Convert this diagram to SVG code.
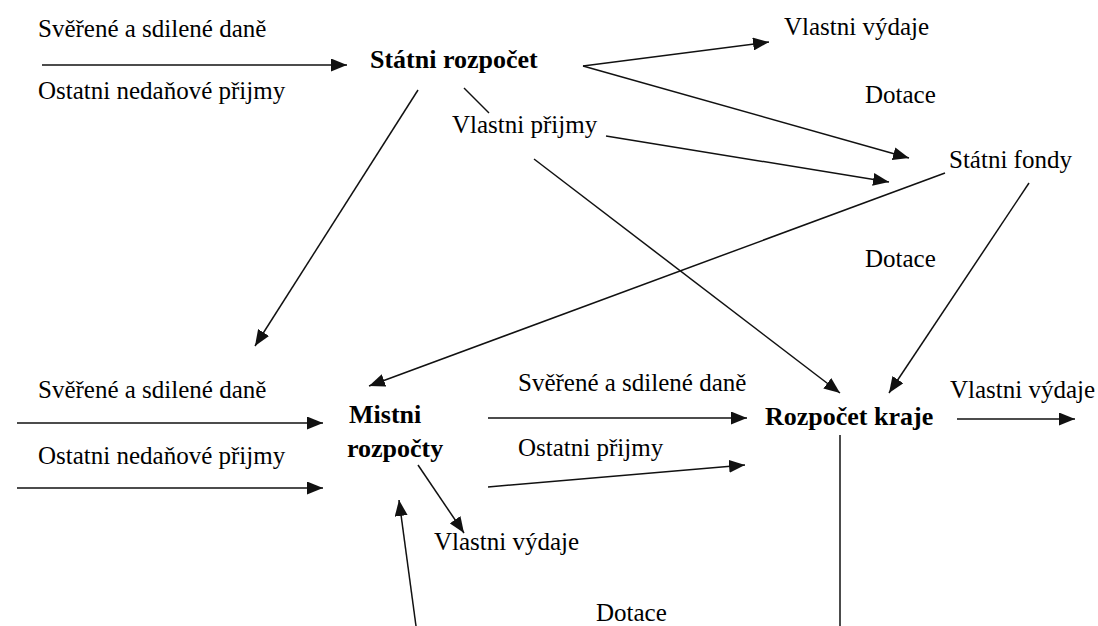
<svg xmlns="http://www.w3.org/2000/svg" width="1098" height="626" viewBox="0 0 1098 626">
<defs>
<marker id="ah" markerUnits="userSpaceOnUse" markerWidth="17" markerHeight="13" refX="16" refY="6.5" orient="auto">
<path d="M0,0 L16,6.5 L0,13 z" fill="#111"/>
</marker>
</defs>
<rect width="1098" height="626" fill="#fff"/>
<g id="connectors" stroke="#111" stroke-width="1.5" fill="none">
<line marker-end="url(#ah)" x1="42" y1="65" x2="347" y2="65"/>
<line marker-end="url(#ah)" x1="418" y1="90" x2="255" y2="346"/>
<line x1="464" y1="88" x2="489" y2="113"/>
<line marker-end="url(#ah)" x1="583" y1="66" x2="769" y2="42"/>
<line marker-end="url(#ah)" x1="583" y1="66" x2="909" y2="158"/>
<line marker-end="url(#ah)" x1="606" y1="136" x2="889" y2="182"/>
<line marker-end="url(#ah)" x1="534" y1="159" x2="840" y2="393"/>
<line marker-end="url(#ah)" x1="945" y1="173" x2="369" y2="386"/>
<line marker-end="url(#ah)" x1="1029" y1="183" x2="889" y2="393"/>
<line marker-end="url(#ah)" x1="17" y1="423" x2="323" y2="423"/>
<line marker-end="url(#ah)" x1="17" y1="488" x2="323" y2="488"/>
<line marker-end="url(#ah)" x1="488" y1="418" x2="747" y2="418"/>
<line marker-end="url(#ah)" x1="488" y1="487" x2="745" y2="465"/>
<line marker-end="url(#ah)" x1="418" y1="465" x2="464" y2="533"/>
<line marker-end="url(#ah)" x1="416" y1="626" x2="399" y2="500"/>
<line marker-end="url(#ah)" x1="957" y1="419" x2="1075" y2="419"/>
<line x1="840" y1="435" x2="840" y2="626"/>
</g>
<g id="labels">
<text x="38" y="37" font-size="25" font-family="Liberation Serif, Times New Roman, serif">Svěřené a sdilené daně</text>
<text x="38" y="99" font-size="25" font-family="Liberation Serif, Times New Roman, serif">Ostatni nedaňové přijmy</text>
<text x="452" y="133" font-size="25" font-family="Liberation Serif, Times New Roman, serif">Vlastni přijmy</text>
<text x="784" y="35" font-size="25" font-family="Liberation Serif, Times New Roman, serif">Vlastni výdaje</text>
<text x="865" y="103" font-size="25" font-family="Liberation Serif, Times New Roman, serif">Dotace</text>
<text x="865" y="267" font-size="25" font-family="Liberation Serif, Times New Roman, serif">Dotace</text>
<text x="38" y="398" font-size="25" font-family="Liberation Serif, Times New Roman, serif">Svěřené a sdilené daně</text>
<text x="38" y="464" font-size="25" font-family="Liberation Serif, Times New Roman, serif">Ostatni nedaňové přijmy</text>
<text x="518" y="391" font-size="25" font-family="Liberation Serif, Times New Roman, serif">Svěřené a sdilené daně</text>
<text x="518" y="456" font-size="25" font-family="Liberation Serif, Times New Roman, serif">Ostatni přijmy</text>
<text x="950" y="398" font-size="25" font-family="Liberation Serif, Times New Roman, serif">Vlastni výdaje</text>
<text x="434" y="550" font-size="25" font-family="Liberation Serif, Times New Roman, serif">Vlastni výdaje</text>
<text x="596" y="621" font-size="25" font-family="Liberation Serif, Times New Roman, serif">Dotace</text>
</g>
<g id="statni-rozpocet"><text x="370" y="68" font-size="26" font-family="Liberation Serif, Times New Roman, serif" font-weight="bold">Státni rozpočet</text></g>
<g id="statni-fondy"><text x="949" y="168" font-size="25" font-family="Liberation Serif, Times New Roman, serif">Státni fondy</text></g>
<g id="mistni-rozpocty"><text x="349" y="423" font-size="26" font-family="Liberation Serif, Times New Roman, serif" font-weight="bold">Mistni</text><text x="347" y="457" font-size="26" font-family="Liberation Serif, Times New Roman, serif" font-weight="bold">rozpočty</text></g>
<g id="rozpocet-kraje"><text x="765" y="425" font-size="26" font-family="Liberation Serif, Times New Roman, serif" font-weight="bold">Rozpočet kraje</text></g>
</svg>
